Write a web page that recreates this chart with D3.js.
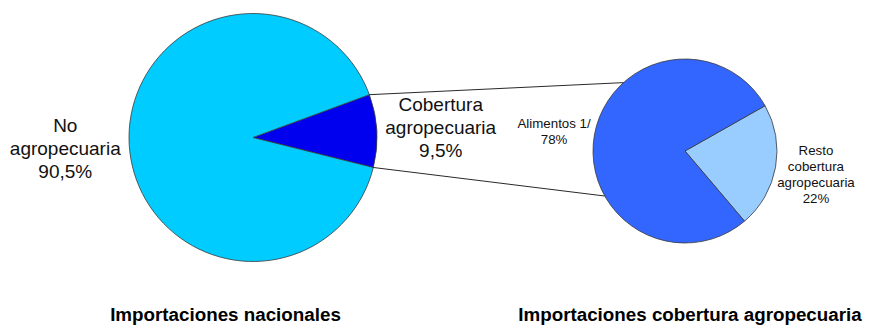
<!DOCTYPE html>
<html>
<head>
<meta charset="utf-8">
<script src="https://cdn.jsdelivr.net/npm/d3@7"></script>
<style>
  html, body { margin: 0; padding: 0; background: #ffffff; }
  svg { display: block; font-family: "Liberation Sans", Arial, sans-serif; }
</style>
</head>
<body>
<svg id="chart" width="870" height="325"></svg>
<script>
// National imports split
const mainCategories = ["Cobertura agropecuaria", "No agropecuaria"];
const mainValues = [9.5, 90.5];
const mainLabels = [["Cobertura", "agropecuaria", "9,5%"], ["No", "agropecuaria", "90,5%"]];
const mainColors = ["#0000EE", "#00CCFF"];

// Breakdown of the agricultural coverage slice
const subCategories = ["Resto cobertura agropecuaria", "Alimentos 1/"];
const subValues = [22, 78];
const subLabels = [["Resto", "cobertura", "agropecuaria", "22%"], ["Alimentos 1/", "78%"]];
const subColors = ["#99CCFF", "#3366FF"];

const titles = ["Importaciones nacionales", "Importaciones cobertura agropecuaria"];

const svg = d3.select("#chart");
const deg = Math.PI / 180;

// Geometry of the two pies (labelShift nudges each label block vertically)
const main = { cx: 253, cy: 137.5, r: 124, start: 69.8 * deg, labelR: 188, fontSize: 19, lineH: 23, labelShift: [0, 0] };
const sub  = { cx: 685, cy: 151, r: 92, start: 60.5 * deg, labelR: 133, fontSize: 13.3, lineH: 16, labelShift: [0, 4] };

function drawPie(cfg, values, colors, labels, cats) {
  const pie = d3.pie().sort(null).value(d => d)
    .startAngle(cfg.start).endAngle(cfg.start + 2 * Math.PI);
  const arcs = pie(values);
  const arc = d3.arc().innerRadius(0).outerRadius(cfg.r);
  const labelArc = d3.arc().innerRadius(cfg.labelR).outerRadius(cfg.labelR);

  const g = svg.append("g").attr("transform", `translate(${cfg.cx},${cfg.cy})`);
  g.selectAll("path.slice")
    .data(arcs)
    .join("path")
    .attr("class", "slice")
    .attr("d", arc)
    .attr("fill", (d, i) => colors[i])
    .attr("stroke", "#3a3a3a")
    .attr("stroke-width", 0.8)
    .append("title").text((d, i) => cats[i]);

  g.selectAll("text.lbl")
    .data(arcs)
    .join("text")
    .attr("class", "lbl")
    .attr("text-anchor", "middle")
    .attr("font-size", cfg.fontSize)
    .attr("fill", "#111")
    .each(function (d, i) {
      const [x, y] = labelArc.centroid(d);
      const lines = labels[i];
      const top = y + cfg.labelShift[i] - (lines.length - 1) * cfg.lineH / 2;
      const t = d3.select(this);
      lines.forEach((ln, k) => {
        t.append("tspan")
          .attr("x", x)
          .attr("y", top + k * cfg.lineH)
          .attr("dy", "0.36em")
          .text(ln);
      });
    });
  return arcs;
}

const mainArcs = drawPie(main, mainValues, mainColors, mainLabels, mainCategories);
drawPie(sub, subValues, subColors, subLabels, subCategories);

// Connector lines from the edges of the coverage slice to the breakdown pie
const pt = (cfg, a) => [cfg.cx + cfg.r * Math.sin(a), cfg.cy - cfg.r * Math.cos(a)];
const slice = mainArcs[0];
const connectors = [
  [pt(main, slice.startAngle), pt(sub, 318 * deg)],
  [pt(main, slice.endAngle), pt(sub, 240.7 * deg)]
];
svg.selectAll("line.connector")
  .data(connectors)
  .join("line")
  .attr("class", "connector")
  .attr("x1", d => d[0][0]).attr("y1", d => d[0][1])
  .attr("x2", d => d[1][0]).attr("y2", d => d[1][1])
  .attr("stroke", "#111")
  .attr("stroke-width", 0.9);

// Titles under each pie
const titleX = [225.5, 690];
svg.selectAll("text.title")
  .data(titles)
  .join("text")
  .attr("class", "title")
  .attr("x", (d, i) => titleX[i])
  .attr("y", 321)
  .attr("text-anchor", "middle")
  .attr("font-size", 18.8)
  .attr("font-weight", "bold")
  .attr("fill", "#000")
  .text(d => d);
</script>
</body>
</html>
